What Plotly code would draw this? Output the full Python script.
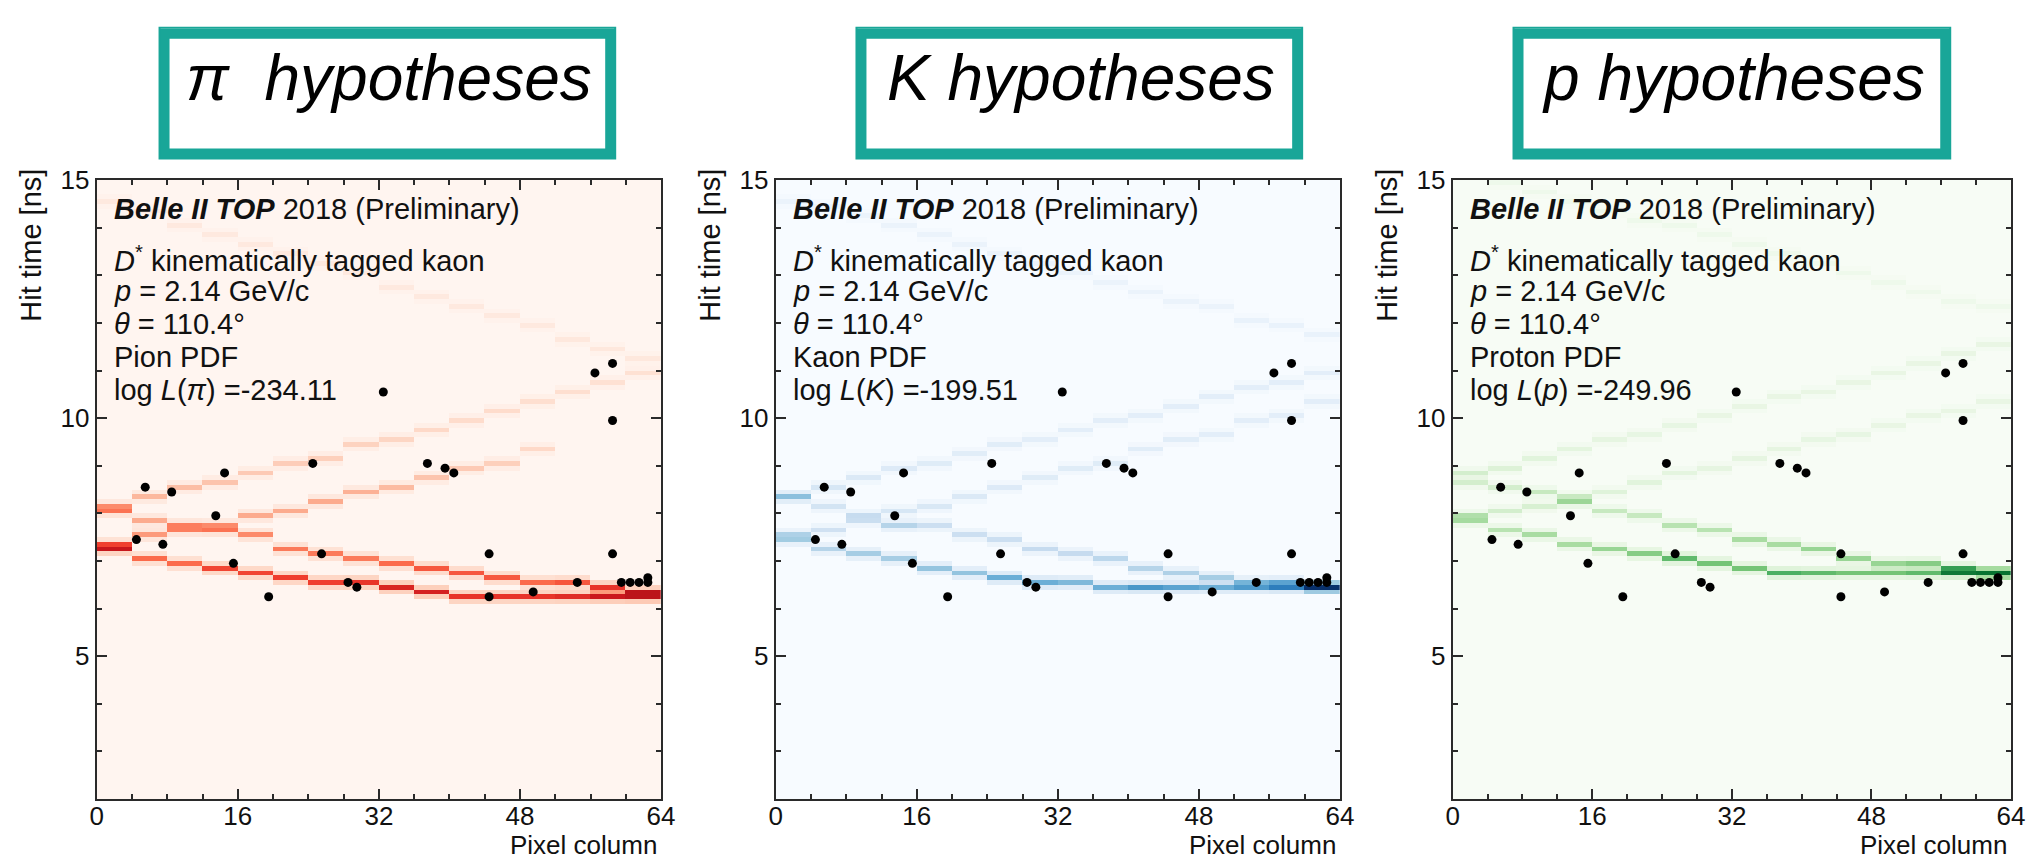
import numpy as np
import plotly.graph_objects as go

W, H = 2039, 859
FONT = "Liberation Sans, Arial, Helvetica, sans-serif"

# ---------------- data ----------------
# pixel-column bin centres (4-column bins) used for the PDF bands
col_centers = [2, 6, 10, 14, 18, 22, 26, 30, 34, 38, 42, 46, 50, 54, 58, 62]

# observed photon hits (identical in all three panels)
hit_col = [4.5, 5.5, 7.5, 8.5, 13.5, 14.5, 15.5, 19.5, 24.5, 25.5, 28.5, 29.5,
           32.5, 37.5, 39.5, 40.5, 44.5, 44.5, 49.5, 54.5, 56.5, 58.5, 58.5,
           58.5, 59.5, 60.5, 61.5, 62.5, 62.5]
hit_time = [7.45, 8.55, 7.35, 8.45, 7.95, 8.85, 6.95, 6.25, 9.05, 7.15, 6.55, 6.45,
            10.55, 9.05, 8.95, 8.85, 7.15, 6.25, 6.35, 6.55, 10.95, 11.15, 9.95,
            7.15, 6.55, 6.55, 6.55, 6.55, 6.65]

# ---- pion PDF bands: centre time [ns] and relative density per column bin
pi_a_time = [8.18, 8.34, 8.50, 8.68, 8.84, 9.02, 9.20, 9.40, 9.58, 9.78, 9.98, 10.18, 10.38, 10.58, 10.78, 10.98]
pi_a_dens = [0.30, 0.26, 0.24, 0.22, 0.20, 0.19, 0.18, 0.17, 0.16, 0.15, 0.14, 0.14, 0.13, 0.13, 0.12, 0.12]
pi_b_time = [8.08, 7.86, 7.74, 7.62, 7.52, 7.30, 7.16, 7.05, 6.95, 6.85, 6.76, 6.64, 6.57, 6.50, 6.40, 6.36]
pi_b_dens = [0.40, 0.30, 0.35, 0.40, 0.40, 0.45, 0.45, 0.45, 0.50, 0.55, 0.55, 0.55, 0.50, 0.55, 0.65, 0.70]
pi_c_time = [7.36, 7.55, 7.68, 7.80, 7.95, 8.08, 8.22, 8.40, 8.57, 8.75, 8.95, 9.10, 9.30, None, None, None]
pi_c_dens = [0.45, 0.35, 0.35, 0.30, 0.30, 0.30, 0.30, 0.28, 0.25, 0.22, 0.20, 0.18, 0.15, 0.0, 0.0, 0.0]
pi_d_time = [7.22, 7.08, 6.95, 6.86, 6.78, 6.66, 6.57, 6.50, 6.45, 6.38, 6.30, 6.26, 6.26, 6.26, 6.26, 6.26]
pi_d_dens = [0.65, 0.50, 0.50, 0.60, 0.60, 0.62, 0.62, 0.65, 0.70, 0.72, 0.65, 0.65, 0.65, 0.68, 0.75, 0.80]
pi_e_time = [14.55, 14.32, 14.10, 13.88, 13.66, 13.44, 13.22, 13.00, 12.78, 12.56, 12.34, 12.12, 11.90, 11.68, 11.46, 11.24]
pi_e_dens = [0.07, 0.07, 0.07, 0.07, 0.07, 0.07, 0.07, 0.07, 0.07, 0.07, 0.07, 0.07, 0.07, 0.08, 0.08, 0.08]

# ---- kaon PDF bands
k_a_time = [8.38, 8.55, 8.72, 8.90, 9.07, 9.24, 9.41, 9.58, 9.76, 9.93, 10.10, 10.27, 10.44, 10.62, 10.79, 10.96]
k_a_dens = [0.20, 0.16, 0.14, 0.13, 0.12, 0.11, 0.11, 0.10, 0.10, 0.10, 0.10, 0.10, 0.10, 0.10, 0.10, 0.10]
k_b_time = [8.30, 8.12, 7.94, 7.80, 7.70, 7.56, 7.44, 7.30, 7.16, 7.02, 6.88, 6.76, 6.64, 6.57, 6.54, 6.48]
k_b_dens = [0.22, 0.18, 0.20, 0.30, 0.22, 0.22, 0.22, 0.25, 0.25, 0.28, 0.30, 0.32, 0.35, 0.35, 0.40, 0.50]
k_c_time = [7.50, 7.65, 7.83, 8.00, 8.15, 8.33, 8.52, 8.72, 8.91, 9.10, 9.30, 9.50, 9.70, 9.90, 10.10, 10.30]
k_c_dens = [0.25, 0.20, 0.18, 0.16, 0.15, 0.14, 0.13, 0.12, 0.12, 0.12, 0.11, 0.11, 0.10, 0.10, 0.10, 0.10]
k_d_time = [7.40, 7.30, 7.16, 7.02, 6.88, 6.78, 6.66, 6.60, 6.53, 6.47, 6.45, 6.42, 6.40, 6.40, 6.40, 6.42]
k_d_dens = [0.30, 0.30, 0.35, 0.35, 0.40, 0.40, 0.50, 0.50, 0.45, 0.50, 0.60, 0.55, 0.50, 0.50, 0.60, 1.00]
k_e_time = [14.60, 14.41, 14.22, 14.02, 13.83, 13.64, 13.45, 13.26, 13.06, 12.87, 12.68, 12.49, 12.30, 12.10, 11.91, 11.72]
k_e_dens = [0.06, 0.06, 0.06, 0.06, 0.06, 0.06, 0.06, 0.06, 0.06, 0.06, 0.06, 0.06, 0.06, 0.07, 0.07, 0.07]

# ---- proton PDF bands
p_a_time = [8.80, 8.98, 9.16, 9.34, 9.52, 9.70, 9.88, 10.06, 10.24, 10.42, 10.60, 10.78, 10.96, 11.14, 11.32, 11.50]
p_a_dens = [0.20, 0.16, 0.14, 0.13, 0.12, 0.11, 0.11, 0.10, 0.10, 0.10, 0.10, 0.10, 0.10, 0.10, 0.10, 0.10]
p_b_time = [8.70, 8.55, 8.40, 8.24, 8.09, 7.93, 7.78, 7.62, 7.47, 7.34, 7.20, 7.07, 6.98, 6.90, 6.82, 6.75]
p_b_dens = [0.20, 0.20, 0.25, 0.35, 0.25, 0.25, 0.30, 0.30, 0.35, 0.35, 0.40, 0.40, 0.40, 0.45, 0.50, 0.60]
p_c_time = [7.90, 8.02, 8.15, 8.32, 8.48, 8.64, 8.82, 8.98, 9.15, 9.33, 9.50, 9.68, 9.85, 10.02, 10.20, 10.38]
p_c_dens = [0.25, 0.20, 0.18, 0.16, 0.15, 0.14, 0.13, 0.12, 0.12, 0.12, 0.11, 0.11, 0.10, 0.10, 0.10, 0.10]
p_d_time = [7.82, 7.67, 7.50, 7.38, 7.27, 7.14, 7.05, 6.97, 6.88, 6.76, 6.74, 6.72, 6.70, 6.70, 6.72, 6.74]
p_d_dens = [0.30, 0.30, 0.35, 0.35, 0.40, 0.45, 0.55, 0.50, 0.50, 0.60, 0.55, 0.50, 0.50, 0.55, 0.70, 0.85]
p_e_time = [15.15, 14.96, 14.77, 14.58, 14.39, 14.20, 14.01, 13.82, 13.63, 13.44, 13.25, 13.06, 12.87, 12.68, 12.49, 12.30]
p_e_dens = [0.06, 0.06, 0.06, 0.06, 0.06, 0.06, 0.06, 0.06, 0.06, 0.06, 0.06, 0.06, 0.06, 0.06, 0.06, 0.06]

titles = ["π\u00a0\u00a0hypotheses", "K hypotheses", "p hypotheses"]
pdf_names = ["Pion PDF", "Kaon PDF", "Proton PDF"]
loglik_labels = ["log <i>L</i>(<i>π</i>) =-234.11",
                 "log <i>L</i>(<i>K</i>) =-199.51",
                 "log <i>L</i>(<i>p</i>) =-249.96"]

REDS = ["#fff5f0", "#fee0d2", "#fcbba1", "#fc9272", "#fb6a4a", "#ef3b2c", "#cb181d", "#a50f15", "#67000d"]
BLUES = ["#f7fbff", "#deebf7", "#c6dbef", "#9ecae1", "#6baed6", "#4292c6", "#2171b5", "#08519c", "#08306b"]
GREENS = ["#f7fcf5", "#e5f5e0", "#c7e9c0", "#a1d99b", "#74c476", "#41ab5d", "#238b45", "#006d2c", "#00441b"]

# ---------------- build PDF histograms ----------------
T0, DT, NT = 2.0, 0.1, 130
t_centers = [round(T0 + DT * (i + 0.5), 3) for i in range(NT)]


def build_z(bands, zcap):
    z = np.zeros((NT, len(col_centers)))
    for times, dens in bands:
        for j, (t, w) in enumerate(zip(times, dens)):
            if t is None or w <= 0:
                continue
            i = int(np.floor((t - T0) / DT))
            for di, f in ((0, 1.0), (-1, 0.25), (1, 0.25)):
                k = i + di
                if 0 <= k < NT:
                    z[k, j] += w * f
    return np.minimum(z, zcap)


panel_bands = [
    [(pi_e_time, pi_e_dens), (pi_a_time, pi_a_dens), (pi_c_time, pi_c_dens), (pi_b_time, pi_b_dens), (pi_d_time, pi_d_dens)],
    [(k_e_time, k_e_dens), (k_a_time, k_a_dens), (k_c_time, k_c_dens), (k_b_time, k_b_dens), (k_d_time, k_d_dens)],
    [(p_e_time, p_e_dens), (p_a_time, p_a_dens), (p_c_time, p_c_dens), (p_b_time, p_b_dens), (p_d_time, p_d_dens)],
]
palettes = [REDS, BLUES, GREENS]
zcaps = [0.8, 1.0, 0.85]

# ---------------- layout geometry (target pixels in the photographed page) ----------------
panel_left = [90, 771, 1450]
panel_right = [656, 1337, 2010]
plot_top, plot_bottom = 168, 798
box_x = [(152, 611), (851, 1300), (1510, 1950)]
box_y = (12, 147)
EFF_W = 2024.0  # horizontal extent observed for the rendered page


def fx(px):
    return min(px / EFF_W, 1.0)


def fy(py):
    return 1 - py / H


fig = go.Figure()

for p in range(3):
    xa = "x" if p == 0 else f"x{p+1}"
    ya = "y" if p == 0 else f"y{p+1}"
    pal = palettes[p]
    cs = [[i / (len(pal) - 1), c] for i, c in enumerate(pal)]
    fig.add_trace(go.Heatmap(
        x=col_centers, y=t_centers, z=build_z(panel_bands[p], zcaps[p]),
        colorscale=cs, zmin=0, zmax=1, showscale=False, zsmooth=False,
        xaxis=xa, yaxis=ya, hoverinfo="skip"))
    fig.add_trace(go.Scatter(
        x=hit_col, y=hit_time, mode="markers",
        marker=dict(color="black", size=9, line=dict(width=0)),
        xaxis=xa, yaxis=ya, showlegend=False, hoverinfo="skip"))

axis_line = dict(showline=True, linecolor="#2a2a2a", linewidth=2, mirror="allticks",
                 ticks="inside", ticklen=10, tickwidth=1.5, tickcolor="#2a2a2a",
                 showgrid=False, zeroline=False,
                 tickfont=dict(family=FONT, size=26, color="#111"))

layout = dict(width=W, height=H, margin=dict(l=0, r=0, t=0, b=0), autosize=False,
              paper_bgcolor="white", plot_bgcolor="white", showlegend=False,
              font=dict(family=FONT, color="#111"))
for p in range(3):
    xk = "xaxis" if p == 0 else f"xaxis{p+1}"
    yk = "yaxis" if p == 0 else f"yaxis{p+1}"
    yanchor_name = "y" if p == 0 else f"y{p+1}"
    xanchor_name = "x" if p == 0 else f"x{p+1}"
    layout[xk] = dict(axis_line, domain=[fx(panel_left[p]), fx(panel_right[p])],
                      range=[0, 64], tickvals=[0, 16, 32, 48, 64], anchor=yanchor_name,
                      ticklabelstandoff=-7,
                      minor=dict(ticks="inside", dtick=4, tick0=0, ticklen=5,
                                 tickcolor="#2a2a2a", showgrid=False))
    layout[yk] = dict(axis_line, domain=[fy(plot_bottom), fy(plot_top)],
                      range=[2, 15], tickvals=[5, 10, 15], anchor=xanchor_name,
                      minor=dict(ticks="inside", dtick=1, tick0=0, ticklen=5,
                                 tickcolor="#2a2a2a", showgrid=False))
fig.update_layout(**layout)

shapes = []
annotations = []
TEAL = "#19a698"
for p in range(3):
    bx0, bx1 = box_x[p]
    by0, by1 = box_y
    shapes.append(dict(type="rect", xref="paper", yref="paper",
                       x0=fx(bx0 + 6), x1=fx(bx1 - 6), y0=fy(by1 - 6), y1=fy(by0 + 7),
                       line=dict(color=TEAL, width=10), fillcolor="white", layer="above"))
    shapes.append(dict(type="rect", xref="paper", yref="paper",
                       x0=fx(bx0 + 1), x1=fx(bx1 - 1), y0=fy(by1 - 1), y1=fy(by0 + 1),
                       line=dict(color=TEAL, width=2), layer="above"))
    annotations.append(dict(xref="paper", yref="paper", x=fx((bx0 + bx1) / 2 + 2), y=fy(64),
                            text=f"<i>{titles[p]}</i>", showarrow=False,
                            xanchor="center", yanchor="middle",
                            font=dict(family=FONT, size=64, color="black")))
    tx = fx(panel_left[p] + 15)
    lines = [("<b><i>Belle II TOP</i></b> 2018 (Preliminary)", 197),
             ("<i>D</i><sup>*</sup> kinematically tagged kaon", 248),
             ("<i>p</i> = 2.14 GeV/c", 281),
             ("<i>θ</i> = 110.4°", 314),
             (pdf_names[p], 348),
             (loglik_labels[p], 382)]
    for txt, ypx in lines:
        annotations.append(dict(xref="paper", yref="paper", x=tx, y=fy(ypx), text=txt,
                                showarrow=False, xanchor="left", yanchor="middle",
                                font=dict(family=FONT, size=29, color="#111")))
    annotations.append(dict(xref="paper", yref="paper", x=fx(panel_left[p] - 66), y=fy(154),
                            text="Hit time [ns]", textangle=-90, showarrow=False,
                            xanchor="center", yanchor="top",
                            font=dict(family=FONT, size=29, color="#111")))
    annotations.append(dict(xref="paper", yref="paper", x=fx(panel_right[p] - 2), y=fy(845),
                            text="Pixel column", showarrow=False,
                            xanchor="right", yanchor="middle",
                            font=dict(family=FONT, size=26, color="#111")))

fig.update_layout(shapes=shapes, annotations=annotations)
fig.write_html("out.html")
